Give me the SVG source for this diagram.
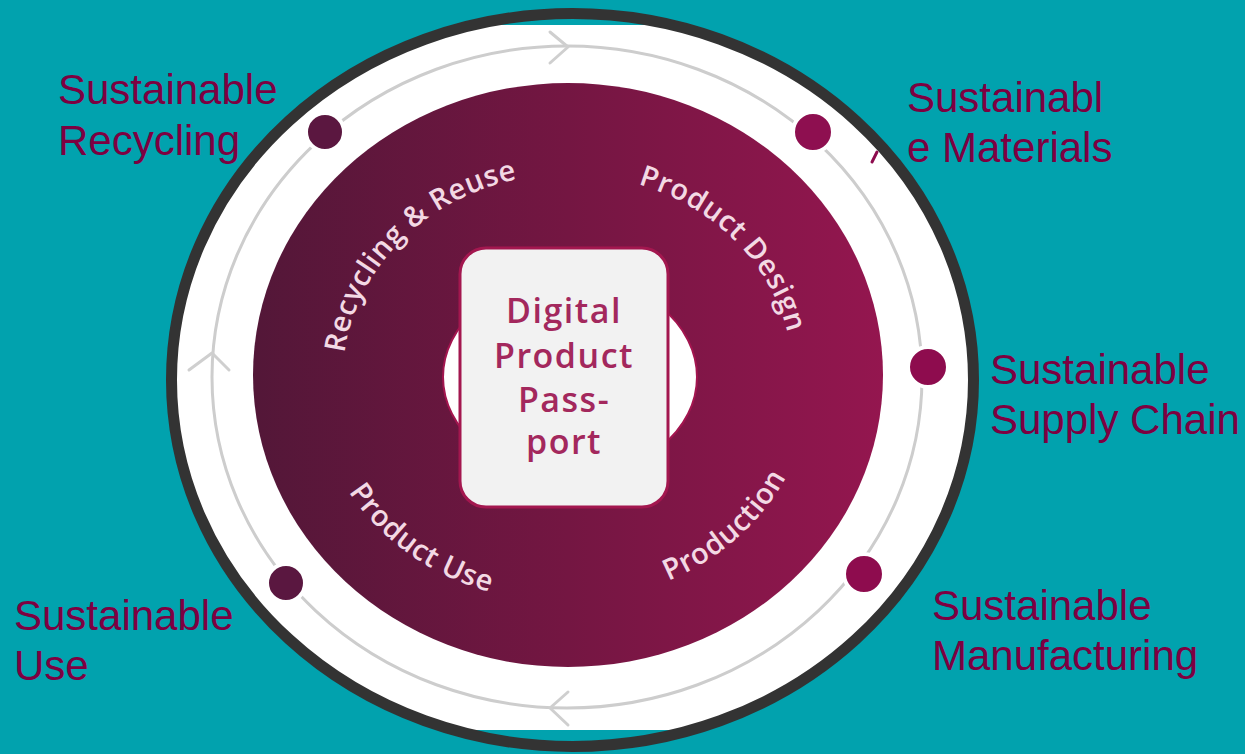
<svg xmlns="http://www.w3.org/2000/svg" width="1245" height="754" viewBox="0 0 1245 754">
<defs>
<style>
.lbl{font-family:"Liberation Sans",Arial,sans-serif;font-size:42px;fill:#7d0041}
.arc{font-family:"Open Sans","DejaVu Sans",sans-serif;font-weight:600;font-size:29px;fill:#f3d9e4;letter-spacing:0.6px}
.dpp{font-family:"Open Sans","DejaVu Sans",sans-serif;font-weight:600;font-size:34px;fill:#a3285d;text-anchor:middle;letter-spacing:1.5px}
.chev{fill:none;stroke:#cfcfcf;stroke-width:3;stroke-linecap:round;stroke-linejoin:round}
.dot{stroke:#ffffff;stroke-width:4}
</style>
<linearGradient id="mg" x1="0" y1="0" x2="1" y2="0">
<stop offset="0" stop-color="#531738"/>
<stop offset="0.5" stop-color="#741642"/>
<stop offset="1" stop-color="#94164f"/>
</linearGradient>
<clipPath id="wclip"><rect x="0" y="25" width="1245" height="705"/></clipPath>
<path id="topArc" d="M 343 377 A 225 203 0 0 1 793 377"/>
<path id="botArc" d="M 315 380 A 248 222 0 0 0 811 380"/>
</defs>
<rect width="1245" height="754" fill="#01a2ae"/>
<g id="disc">
<ellipse cx="572.5" cy="380" rx="398" ry="363" fill="#ffffff" clip-path="url(#wclip)"/>
<ellipse cx="572.5" cy="380" rx="401" ry="366.5" fill="none" stroke="#333333" stroke-width="11"/>
</g>
<g id="connectors">
<ellipse cx="567" cy="377" rx="355" ry="331" fill="none" stroke="#cdcdcd" stroke-width="3"/>
<path class="chev" d="M550 32 L568 47 L550 63"/>
<path class="chev" d="M189 370 L212 353 L229 370"/>
<path class="chev" d="M568 692 L550 708 L568 725"/>
<path d="M872 162 L877 152" stroke="#8e0c4e" stroke-width="3" stroke-linecap="round"/>
</g>
<g id="cycle">
<ellipse cx="568" cy="375" rx="315" ry="292" fill="url(#mg)"/>
<text class="arc"><textPath href="#topArc" startOffset="23%" text-anchor="middle">Recycling &amp; Reuse</textPath></text>
<text class="arc"><textPath href="#topArc" startOffset="77%" text-anchor="middle">Product Design</textPath></text>
<text class="arc"><textPath href="#botArc" startOffset="28%" text-anchor="middle">Product Use</textPath></text>
<text class="arc"><textPath href="#botArc" startOffset="75.5%" text-anchor="middle">Production</textPath></text>
</g>
<g id="passport">
<ellipse cx="570" cy="377" rx="127" ry="100" fill="#ffffff" stroke="#a3154f" stroke-width="2"/>
<rect x="460" y="248" width="208" height="259" rx="26" fill="#f2f2f2" stroke="#a3174f" stroke-width="3"/>
<text class="dpp" x="564" y="323">Digital</text>
<text class="dpp" x="564" y="368">Product</text>
<text class="dpp" x="564" y="412">Pass-</text>
<text class="dpp" x="564" y="454">port</text>
</g>
<g id="n-recycling">
<circle class="dot" cx="325" cy="132" r="19" fill="#5b1740"/>
<text class="lbl" x="58" y="104">Sustainable</text>
<text class="lbl" x="58" y="155">Recycling</text>
</g>
<g id="n-materials">
<circle class="dot" cx="813" cy="132" r="20" fill="#8e0f50"/>
<text class="lbl" x="907" y="112">Sustainabl</text>
<text class="lbl" x="907" y="162">e Materials</text>
</g>
<g id="n-supply">
<circle class="dot" cx="928" cy="367" r="20" fill="#8e0c4e"/>
<text class="lbl" x="990" y="384">Sustainable</text>
<text class="lbl" x="990" y="434">Supply Chain</text>
</g>
<g id="n-manufacturing">
<circle class="dot" cx="864" cy="574" r="20" fill="#8e0c4e"/>
<text class="lbl" x="932" y="620">Sustainable</text>
<text class="lbl" x="932" y="670">Manufacturing</text>
</g>
<g id="n-use">
<circle class="dot" cx="286" cy="583" r="19" fill="#5a1740"/>
<text class="lbl" x="14" y="630">Sustainable</text>
<text class="lbl" x="14" y="680">Use</text>
</g>
</svg>
